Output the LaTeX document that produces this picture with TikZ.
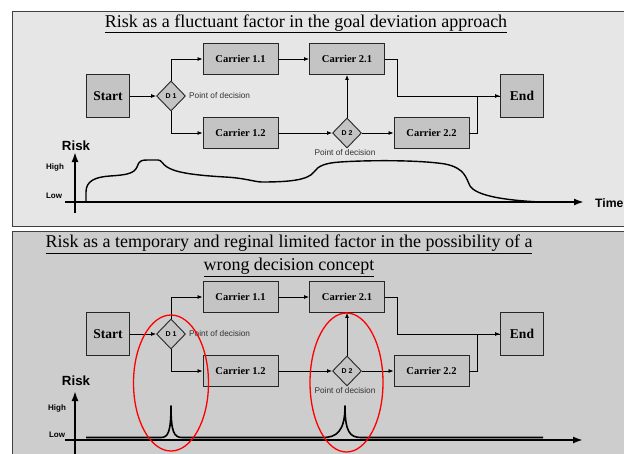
\documentclass[tikz,border=0pt]{standalone}
\usepackage{fontspec}
\setmainfont{Liberation Serif}
\setsansfont{Liberation Sans}
\usetikzlibrary{shapes.geometric,arrows.meta}
\definecolor{bgtop}{HTML}{E6E6E6}
\definecolor{bgbot}{HTML}{CDCDCD}
\definecolor{boxfill}{HTML}{C4C4C4}
\definecolor{framecol}{HTML}{404040}
\tikzset{
 carrier/.style={draw=black!85, fill=boxfill, line width=0.9pt, minimum width=75pt, minimum height=31pt, inner sep=0pt, font=\fontsize{10.5}{12}\selectfont\bfseries},
 termbox/.style={carrier, minimum width=43pt, minimum height=43pt, font=\fontsize{13.5}{15}\selectfont\bfseries},
 decision/.style={diamond, draw=black!85, fill=boxfill, line width=0.9pt, minimum width=29pt, minimum height=30pt, inner sep=0pt, font=\sffamily\bfseries\fontsize{7}{8}\selectfont},
 podlabel/.style={font=\sffamily\fontsize{8.3}{9}\selectfont, text=black!80, inner sep=0pt},
 flow/.style={line width=0.8pt, -{Latex[length=5pt,width=4pt]}},
 plain/.style={line width=0.8pt},
 axisline/.style={line width=1.8pt, -{Latex[length=10pt,width=7pt]}},
 axislabel/.style={font=\sffamily\bfseries\fontsize{13.3}{15}\selectfont, inner sep=0pt},
 levellabel/.style={font=\sffamily\bfseries\fontsize{8}{9}\selectfont, inner sep=0pt},
 riskcurve/.style={line width=1.4pt, line join=round},
 panel/.style={draw=framecol, line width=1pt},
 ring/.style={draw=red, line width=1.3pt},
 titletext/.style={font=\fontsize{18}{23}\selectfont, align=center, inner sep=0pt, text=black}
}
\newcommand\drawflow[2]{%
 \begin{scope}[shift={(0,#2)}]
  \node[termbox] (#1S) at (108,96) {Start};
  \node[decision] (#1D1) at (171,96) {D 1};
  \node[podlabel, anchor=west] (#1P1) at (189,96) {Point of decision};
  \node[carrier] (#1C11) at (240.5,59) {Carrier 1.1};
  \node[carrier] (#1C12) at (240.5,133) {Carrier 1.2};
  \node[carrier] (#1C21) at (347,59) {Carrier 2.1};
  \node[decision] (#1D2) at (347,133) {D 2};
  \node[podlabel] (#1P2) at (345,153) {Point of decision};
  \node[carrier] (#1C22) at (431.5,133) {Carrier 2.2};
  \node[termbox] (#1E) at (522,96) {End};
  \draw[flow] (#1S) -- (#1D1);
  \draw[flow] (#1D1.north) |- (#1C11.west);
  \draw[flow] (#1D1.south) |- (#1C12.west);
  \draw[flow] (#1C11) -- (#1C21);
  \draw[flow] (#1C12) -- (#1D2);
  \draw[flow] (#1D2.north) -- (#1C21.south);
  \draw[flow] (#1D2) -- (#1C22);
  \draw[flow] (#1C21.east) -- ++(12,0) |- (#1E.west);
  \draw[plain] (#1C22.east) -- ++(8,0) |- (#1E.west);
 \end{scope}}
\begin{document}
\begin{tikzpicture}[x=1pt,y=-1pt]
\useasboundingbox (0,0) rectangle (624,453);
\clip (0,0) rectangle (624,453);
\fill[white] (0,0) rectangle (624,453);
% panels
\draw[panel, fill=bgtop] (12,11) rectangle (640,226);
\draw[panel, fill=bgbot] (12,231) rectangle (640,470);
% titles
\node[titletext] (t1) at (306,24) {\underline{Risk as a fluctuant factor in the goal deviation approach}};
\node[titletext] (t2) at (289,256) {\underline{Risk as a temporary and reginal limited factor in the possibility of a}\\\underline{wrong decision concept}};
% flowcharts
\drawflow{t}{0}
\drawflow{b}{238}
% top risk axes
\coordinate (tO) at (75,213);
\coordinate (tY) at (75,152);
\coordinate (tX0) at (65,202);
\coordinate (tX) at (584,202);
\draw[axisline] (tO) -- (tY);
\draw[axisline] (tX0) -- (tX);
\node[axislabel] (tRisk) at (76,146) {Risk};
\node[levellabel] (tHigh) at (55,167) {High};
\node[levellabel] (tLow) at (54,196) {Low};
\node[axislabel, anchor=west, font=\sffamily\bfseries\fontsize{12.2}{14}\selectfont] (tTime) at (595,203) {Time};
\draw[riskcurve] (86,202) -- (86,192) .. controls (86,181) and (95,177) .. (110,176)
  .. controls (125,175) and (134,174) .. (137,167) .. controls (139,161) and (141,160) .. (147,160)
  -- (158,160) .. controls (162,160) and (162,164) .. (167,167)
  .. controls (175,172) and (190,175) .. (225,177) .. controls (245,178) and (255,182) .. (262,182)
  .. controls (290,182) and (308,180) .. (314,172) .. controls (318,166) and (325,163) .. (340,162)
  .. controls (370,160) and (420,160) .. (445,164) .. controls (465,168) and (466,178) .. (470,186)
  .. controls (476,195) and (500,200) .. (540,202);
% bottom risk axes
\coordinate (bO) at (75,470);
\coordinate (bY) at (75,391);
\coordinate (bX0) at (65,440);
\coordinate (bX) at (583,440);
\draw[axisline] (bO) -- (bY);
\draw[axisline] (bX0) -- (bX);
\node[axislabel] (bRisk) at (76,381) {Risk};
\node[levellabel] (bHigh) at (57,408) {High};
\node[levellabel] (bLow) at (57,435) {Low};
\draw[riskcurve, line width=1.6pt] (86,437.5) -- (161,437.5) .. controls (168,437.5) and (171,432) .. (171,406)
  .. controls (171,432) and (174,437.5) .. (182,437.5) -- (323,437.5)
  .. controls (336,437.5) and (345,432) .. (345,406) .. controls (345,432) and (350,437.5) .. (361,437.5)
  -- (543,437.5);
% red rings
\draw[ring] (171,383) ellipse [x radius=37.5, y radius=68];
\draw[ring] (346.5,382.5) ellipse [x radius=36.5, y radius=69.5];
\end{tikzpicture}
\end{document}
